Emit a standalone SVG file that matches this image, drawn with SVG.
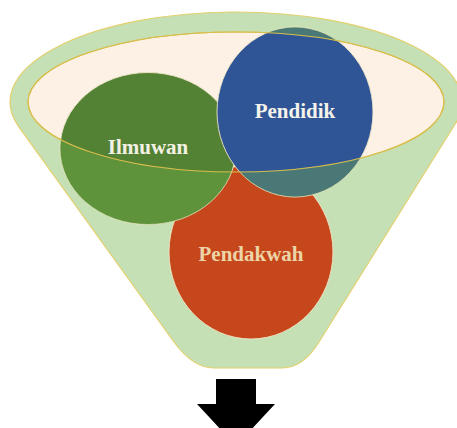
<svg xmlns="http://www.w3.org/2000/svg" width="457" height="428" viewBox="0 0 457 428">
<style>
.lbl{font-family:"Liberation Serif","Times New Roman",serif;font-weight:bold;font-size:21px;text-anchor:middle}
.edge{stroke:#EFE6C8;stroke-width:0.9}
</style>
<defs>
<path id="funnelShape" d="M 18.8 126.8 L 174 342 Q 193 368 214 368 L 282 368 Q 303 368 319 342 L 455.3 123.8 A 226 90 0 1 0 18.8 126.8 Z"/>
<clipPath id="circClip">
<ellipse cx="148" cy="148.5" rx="88" ry="76"/>
<ellipse cx="295" cy="112" rx="78" ry="85"/>
</clipPath>
</defs>
<rect width="457" height="428" fill="#FFFFFF"/>
<g id="funnel">
<use href="#funnelShape" fill="#C5E0B4" stroke="#E3D06E" stroke-width="1.2"/>
<ellipse cx="236" cy="102" rx="208" ry="70" fill="#FCF1E4" stroke="#D8BE4C" stroke-width="1.2"/>
</g>
<g id="node-pendakwah">
<ellipse cx="251" cy="252" rx="82" ry="87" fill="#C6471B" class="edge"/>
<text class="lbl" x="251" y="261" fill="#EDD4A7">Pendakwah</text>
</g>
<g id="node-ilmuwan">
<ellipse cx="148" cy="148.5" rx="88" ry="76" fill="#548235" class="edge"/>
</g>
<g id="node-pendidik">
<ellipse cx="295" cy="112" rx="78" ry="85" fill="#2F5597" class="edge"/>
</g>
<g id="overlay" clip-path="url(#circClip)">
<path d="M 18.8 126.8 L 174 342 Q 193 368 214 368 L 282 368 Q 303 368 319 342 L 455.3 123.8 A 226 90 0 1 0 18.8 126.8 Z M 28 102 A 208 70 0 1 0 444 102 A 208 70 0 1 0 28 102 Z" fill="#70AD47" fill-opacity="0.4" fill-rule="evenodd"/>
</g>
<ellipse cx="236" cy="102" rx="208" ry="70" fill="none" stroke="#D8BE4C" stroke-width="1.1"/>
<g id="labels">
<text class="lbl" x="148" y="154" fill="#F3F1E4">Ilmuwan</text>
<text class="lbl" x="295" y="118" fill="#F5F3EA">Pendidik</text>
</g>
<g id="connectors">
<polygon points="216,379 256,379 256,404 275,404 236,446 197,404 216,404" fill="#000000"/>
</g>
</svg>
